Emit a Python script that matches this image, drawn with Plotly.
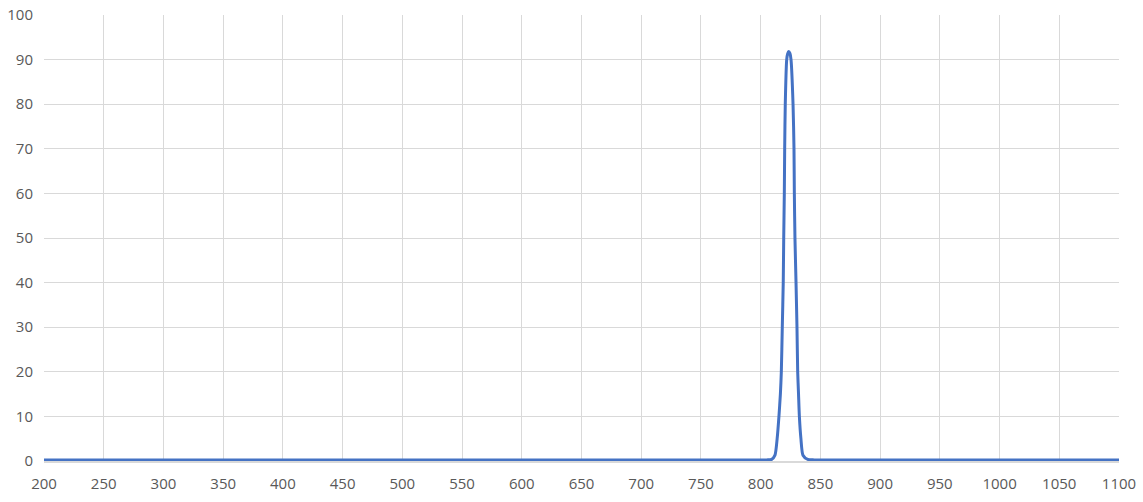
import plotly.graph_objects as go

wavelength = [200, 700, 805, 809.2, 812.0, 813.8, 815.3, 816.5, 817.3, 818.1, 818.9, 819.3, 819.8, 820.1,
              820.6, 821.8, 822.6, 823.5, 824.5, 825.4, 827.1, 827.9, 828.2, 828.7, 829.6,
              830.4, 831.0, 831.7, 832.4, 833.7, 835.4, 839.4, 845, 900, 1100]
transmission = [0.25, 0.25, 0.25, 0.35, 1.3, 5, 10, 15, 20, 30, 40, 50, 60, 70,
                80, 90, 91.3, 91.8, 91.4, 90, 80, 70, 60, 50, 40,
                30, 20, 15, 10, 5, 1.3, 0.35, 0.25, 0.25, 0.25]

x_ticks = list(range(200, 1101, 50))
y_ticks = list(range(0, 101, 10))

fig = go.Figure()
fig.add_trace(go.Scatter(x=wavelength, y=transmission, mode="lines",
                         line=dict(color="#4472C4", width=3, shape="spline", smoothing=0.6),
                         showlegend=False))

fig.update_layout(
    width=1143, height=502,
    margin=dict(l=44, r=24, t=15, b=41, autoexpand=False),
    plot_bgcolor="white", paper_bgcolor="white",
    font=dict(family="Open Sans", size=15, color="#595959"),
    xaxis=dict(range=[200, 1100], tickvals=x_ticks, showgrid=True, gridcolor="#D9D9D9",
               gridwidth=1.3, zeroline=False, showline=True, linecolor="#D9D9D9", linewidth=2,
               ticks="", ticklabelstandoff=8, automargin=False, ticklabeloverflow="allow",
               layer="above traces"),
    yaxis=dict(range=[0, 100], tickvals=y_ticks, showgrid=True, gridcolor="#D9D9D9",
               gridwidth=1.3, zeroline=False, showline=False, ticks="", ticklabelstandoff=10,
               automargin=False, ticklabeloverflow="allow"),
)

fig.write_html("out.html", config={"displayModeBar": False},
               post_script="document.body.style.margin='0px';")
